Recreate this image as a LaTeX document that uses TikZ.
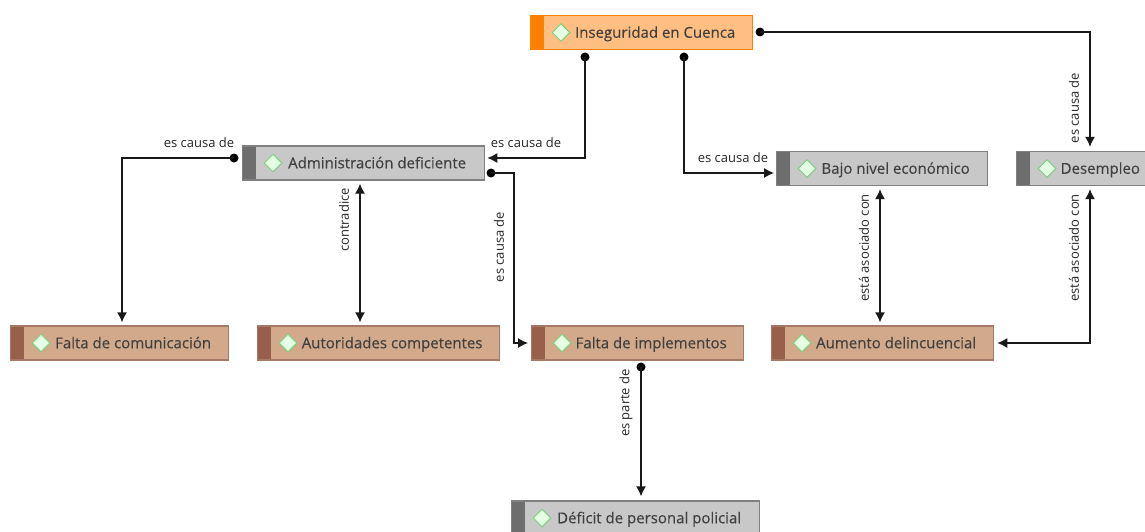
\documentclass[tikz,border=0pt]{standalone}
\usepackage{fontspec}
\setmainfont{Open Sans}
\newfontfamily\fuentecaja[FakeBold=0.2]{Open Sans}
\usetikzlibrary{shapes.geometric,arrows.meta}
\definecolor{naranja}{HTML}{FF8000}
\definecolor{naranjaclaro}{HTML}{FFBE82}
\definecolor{grisclaro}{HTML}{C8C8C8}
\definecolor{grisoscuro}{HTML}{6E6E6E}
\definecolor{cafeclaro}{HTML}{D2A98A}
\definecolor{cafeoscuro}{HTML}{98604A}
\begin{document}
\begin{tikzpicture}[x=1pt,y=-1pt]
% Styles
\tikzstyle{flecha}=[-{Latex[length=10pt,width=10pt]},line width=1.3pt,black!90]
\tikzstyle{doble}=[{Latex[length=10pt,width=10pt]}-{Latex[length=10pt,width=10pt]},line width=1.3pt,black!90]
\tikzstyle{punto}=[fill=black,circle,inner sep=0pt,minimum size=9pt]
\tikzstyle{etiqueta}=[font=\fontsize{13}{15}\selectfont,text=black!85,inner sep=0pt]
\tikzstyle{vertical}=[etiqueta,rotate=90]
\tikzstyle{rombo}=[diamond,aspect=1,inner sep=0pt,minimum size=18pt,fill=green!10!white,draw=green!45!gray!70,line width=1pt]
\tikzstyle{caja}=[anchor=west,line width=1.3pt,minimum height=34pt,inner xsep=17pt,inner ysep=0pt,text height=14pt,text depth=3.5pt,text=black!75,font=\fontsize{15}{17}\fuentecaja,execute at begin node={\hspace*{27pt}}]
\tikzstyle{raiz}=[caja,fill=naranjaclaro,draw=naranja,path picture={\fill[naranja] (path picture bounding box.north west) rectangle ([xshift=13pt]path picture bounding box.south west);}]
\tikzstyle{gris}=[caja,fill=grisclaro,draw=black!50,path picture={\fill[grisoscuro] (path picture bounding box.north west) rectangle ([xshift=13pt]path picture bounding box.south west);}]
\tikzstyle{cafe}=[caja,fill=cafeclaro,draw=cafeoscuro!85,path picture={\fill[cafeoscuro] (path picture bounding box.north west) rectangle ([xshift=13pt]path picture bounding box.south west);}]
\path[use as bounding box,clip] (0,0) rectangle (1145,532);
% Nodos
\node[raiz,minimum width=222pt] (Ins) at (530,32.5) {Inseguridad en Cuenca};
\node[gris,minimum width=242pt] (Adm) at (242,163) {Administración deficiente};
\node[gris,minimum width=211pt] (Baj) at (776,168.5) {Bajo nivel económico};
\node[gris] (Des) at (1016,168.5) {Desempleo};
\node[cafe,minimum width=218pt] (Com) at (10,343) {Falta de comunicación};
\node[cafe,minimum width=242pt] (Aut) at (257,343) {Autoridades competentes};
\node[cafe,minimum width=212pt] (Imp) at (531,343) {Falta de implementos};
\node[cafe,minimum width=222pt] (Aum) at (771,343) {Aumento delincuencial};
\node[gris,minimum width=248pt] (Def) at (511,518) {Déficit de personal policial};
\foreach \n in {Ins,Adm,Baj,Des,Com,Aut,Imp,Aum,Def}
  \node[rombo] (R\n) at ([xshift=31pt]\n.west) {};
% Puntos
\node[punto] (Pa) at (585,57) {};
\node[punto] (Pb) at (684,57) {};
\node[punto] (Pc) at (760,32) {};
\node[punto] (Pd) at (234,158) {};
\node[punto] (Pe) at (491,173) {};
\node[punto] (Pf) at (641,367) {};
% Arcos
\draw[flecha] (Pa.center) |- ([shift={(2,-5)}]Adm.east);
\draw[flecha] (Pb.center) |- ([shift={(-2,4.5)}]Baj.west);
\draw[flecha] (Pc.center) -| ([shift={(0,-4)}]Des.north west -| 1090,0);
\draw[flecha] (Pd.center) -| ([yshift=3pt]Com.north -| 122,0);
\draw[flecha] (Pe.center) -- (514,173) |- ([xshift=-3pt]Imp.west);
\draw[flecha] (Pf.center) -- ([yshift=4pt]Def.north -| Pf);
\draw[doble] ([yshift=-3pt]Adm.south -| 360,0) -- ([yshift=3pt]Aut.north -| 360,0);
\draw[doble] ([yshift=-3pt]Baj.south -| 880,0) -- ([yshift=3pt]Aum.north -| 880,0);
\draw[doble] ([yshift=-3pt]Des.south -| 1090,0) |- ([xshift=3pt]Aum.east);
% Etiquetas
\node[etiqueta] (Ea) at (526,143) {es causa de};
\node[etiqueta] (Eb) at (733,157.5) {es causa de};
\node[vertical] (Ec) at (1074,108) {es causa de};
\node[etiqueta] (Ed) at (199,143) {es causa de};
\node[vertical] (Ee) at (499,247) {es causa de};
\node[vertical] (Ef) at (344,220) {contradice};
\node[vertical] (Eg) at (864,248) {está asociado con};
\node[vertical] (Eh) at (1074,248) {está asociado con};
\node[vertical] (Ei) at (626,403) {es parte de};
\end{tikzpicture}
\end{document}
